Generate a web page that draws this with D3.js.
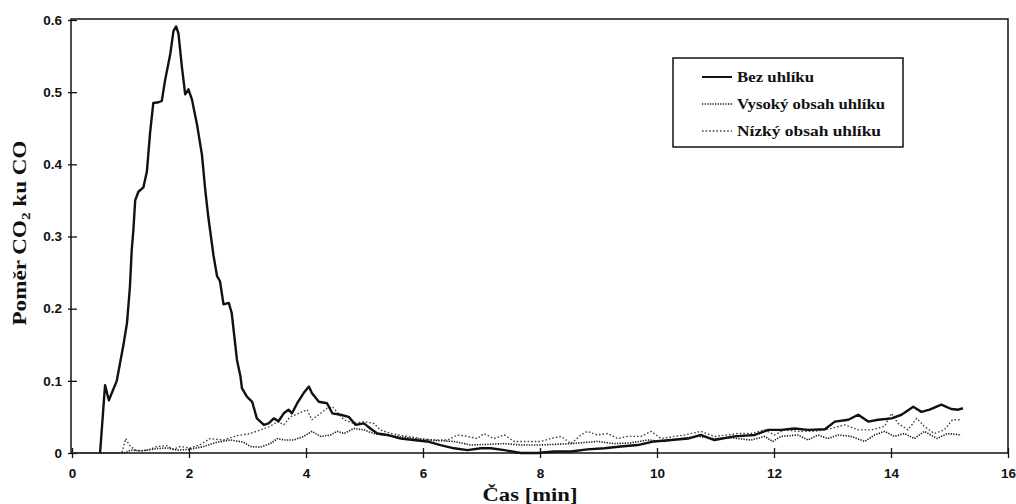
<!DOCTYPE html>
<html>
<head>
<meta charset="utf-8">
<script src="https://cdn.jsdelivr.net/npm/d3@7/dist/d3.min.js"></script>
<style>
  body { margin: 0; background: #fff; }
  svg { display: block; }
</style>
</head>
<body>
<svg id="chart" width="1016" height="504"></svg>
<script>
// Time [min] and CO2/CO ratio for each run
const bezT = [0.48,0.565,0.63,0.765,0.875,0.94,0.99,1.02,1.05,1.08,1.135,1.22,1.28,1.335,1.39,1.48,1.535,1.59,1.68,1.735,1.78,1.82,1.88,1.935,1.99,2.05,2.135,2.22,2.28,2.33,2.42,2.48,2.53,2.59,2.68,2.73,2.82,2.88,2.905,2.99,3.08,3.16,3.28,3.36,3.45,3.53,3.62,3.70,3.76,3.85,3.96,4.05,4.10,4.22,4.36,4.45,4.59,4.73,4.85,4.99,5.10,5.22,5.39,5.62,5.84,6.07,6.30,6.53,6.76,6.99,7.16,7.39,7.67,7.96,8.24,8.53,8.81,9.10,9.38,9.67,9.95,10.24,10.53,10.75,10.98,11.32,11.67,11.90,12.12,12.35,12.58,12.87,13.04,13.27,13.44,13.61,13.78,14.01,14.18,14.38,14.52,14.66,14.86,15.03,15.15,15.23];
const bezV = [0,0.094,0.073,0.10,0.148,0.18,0.23,0.28,0.31,0.35,0.362,0.368,0.39,0.444,0.485,0.486,0.488,0.516,0.553,0.585,0.591,0.581,0.534,0.497,0.504,0.49,0.456,0.414,0.363,0.327,0.273,0.245,0.238,0.206,0.208,0.194,0.129,0.106,0.09,0.078,0.071,0.048,0.039,0.041,0.048,0.044,0.055,0.06,0.055,0.069,0.083,0.092,0.083,0.071,0.069,0.055,0.053,0.050,0.039,0.041,0.034,0.027,0.025,0.020,0.018,0.016,0.011,0.0065,0.004,0.0065,0.0065,0.004,0,0,0.002,0.002,0.005,0.0065,0.009,0.011,0.016,0.018,0.020,0.025,0.018,0.023,0.025,0.032,0.032,0.034,0.032,0.033,0.0435,0.046,0.053,0.0435,0.046,0.048,0.053,0.064,0.057,0.060,0.067,0.061,0.060,0.062];

const vysT = [0,0.9,1.0,1.2,1.45,1.62,1.8,2.0,2.25,2.48,2.71,2.93,3.05,3.22,3.39,3.51,3.62,3.79,3.96,4.10,4.25,4.42,4.53,4.65,4.82,4.99,5.16,5.33,5.56,5.84,6.07,6.30,6.53,6.82,7.1,7.39,7.7,7.96,8.25,8.53,8.98,9.27,9.55,9.84,10.13,10.41,10.70,10.98,11.27,11.61,11.84,11.98,12.12,12.41,12.58,12.75,12.92,13.10,13.32,13.55,13.72,13.89,14.06,14.23,14.40,14.57,14.79,14.96,15.20];
const vysV = [0,0,0.004,0.003,0.006,0.007,0.004,0.005,0.009,0.015,0.018,0.015,0.009,0.008,0.013,0.020,0.018,0.018,0.023,0.030,0.023,0.025,0.030,0.027,0.034,0.032,0.027,0.025,0.023,0.020,0.018,0.017,0.016,0.011,0.012,0.013,0.011,0.011,0.012,0.013,0.016,0.013,0.014,0.018,0.016,0.020,0.023,0.020,0.021,0.018,0.023,0.016,0.023,0.025,0.018,0.025,0.020,0.025,0.023,0.016,0.025,0.030,0.023,0.027,0.020,0.030,0.020,0.027,0.025];

const nizT = [0,0.85,0.92,0.97,1.02,1.1,1.3,1.45,1.62,1.73,1.85,2.02,2.2,2.36,2.59,2.82,3.05,3.22,3.39,3.51,3.62,3.73,3.88,4.02,4.10,4.25,4.36,4.45,4.53,4.65,4.82,4.99,5.16,5.27,5.45,5.73,5.96,6.19,6.42,6.59,6.76,6.93,7.04,7.21,7.39,7.56,7.79,8.01,8.18,8.36,8.53,8.70,8.81,8.98,9.16,9.33,9.50,9.73,9.90,10.07,10.30,10.47,10.75,10.98,11.21,11.38,11.61,11.84,12.01,12.18,12.41,12.70,12.98,13.21,13.44,13.67,13.89,14.01,14.12,14.29,14.44,14.57,14.74,14.91,15.05,15.20];
const nizV = [0,0,0.02,0.012,0.008,0.003,0.004,0.009,0.010,0.005,0.009,0.007,0.012,0.020,0.018,0.024,0.027,0.032,0.037,0.0435,0.039,0.050,0.055,0.060,0.046,0.055,0.062,0.064,0.057,0.046,0.041,0.0435,0.041,0.032,0.027,0.023,0.020,0.018,0.018,0.025,0.023,0.020,0.027,0.020,0.025,0.016,0.016,0.016,0.020,0.023,0.013,0.025,0.030,0.025,0.027,0.020,0.023,0.023,0.030,0.020,0.023,0.025,0.030,0.023,0.025,0.027,0.027,0.032,0.025,0.032,0.030,0.030,0.034,0.039,0.032,0.032,0.037,0.055,0.041,0.032,0.048,0.037,0.027,0.032,0.046,0.046];

const seriesNames = ["Bez uhlíku", "Vysoký obsah uhlíku", "Nízký obsah uhlíku"];
const xTicks = [0, 2, 4, 6, 8, 10, 12, 14, 16];
const yTicks = [0, 0.1, 0.2, 0.3, 0.4, 0.5, 0.6];

(function draw() {
  const svg = d3.select("#chart");
  const mLeft = 72, mRight = 1008, mTop = 20, mBottom = 453;

  const x = d3.scaleLinear().domain([0, 16]).range([mLeft, mRight]);
  const y = d3.scaleLinear().domain([0, 0.6]).range([mBottom, mTop]);

  const tickFont = "'Liberation Sans', Arial, sans-serif";
  const titleFont = "'Liberation Serif', 'Times New Roman', serif";

  // axes
  const yAxis = svg.append("g")
    .attr("transform", `translate(${mLeft},0)`)
    .call(d3.axisLeft(y).tickValues(yTicks)
      .tickFormat(d => d === 0 ? "0" : d3.format(".1f")(d)));
  yAxis.select(".domain").remove();
  yAxis.selectAll(".tick line").attr("x1", 5).attr("x2", -4).attr("stroke", "#111").attr("stroke-width", 1.3);
  yAxis.selectAll(".tick text")
    .attr("x", -10)
    .attr("font-family", tickFont).attr("font-weight", "bold").attr("font-size", 13.5).attr("fill", "#111");

  const xAxis = svg.append("g")
    .attr("transform", `translate(0,${mBottom})`)
    .call(d3.axisBottom(x).tickValues(xTicks).tickFormat(d3.format("d")));
  xAxis.select(".domain").remove();
  xAxis.selectAll(".tick line").attr("y1", -5).attr("y2", 5).attr("stroke", "#111").attr("stroke-width", 1.3);
  xAxis.selectAll(".tick text")
    .attr("y", 15).attr("dy", "0.71em")
    .attr("font-family", tickFont).attr("font-weight", "bold").attr("font-size", 13.5).attr("fill", "#111");

  // plot frame
  svg.append("rect")
    .attr("x", mLeft - 1).attr("y", mTop - 1)
    .attr("width", mRight - mLeft + 1).attr("height", mBottom - mTop + 1)
    .attr("fill", "none").attr("stroke", "#111").attr("stroke-width", 1.5);

  // series
  const styles = [
    { stroke: "#111", width: 2.4, dash: null },
    { stroke: "#1a1a1a", width: 1.6, dash: "1.3,1.3" },
    { stroke: "#444", width: 1.4, dash: "1.6,2" }
  ];
  const data = [
    d3.zip(bezT, bezV),
    d3.zip(vysT, vysV),
    d3.zip(nizT, nizV)
  ];
  const line = d3.line().x(d => x(d[0])).y(d => y(d[1]));

  // dotted runs first so the solid line sits on top
  [2, 1, 0].forEach(i => {
    svg.append("path")
      .datum(data[i])
      .attr("d", line)
      .attr("fill", "none")
      .attr("stroke", styles[i].stroke)
      .attr("stroke-width", styles[i].width)
      .attr("stroke-linejoin", "round")
      .attr("stroke-dasharray", styles[i].dash);
  });

  // legend
  const lg = svg.append("g");
  lg.append("rect")
    .attr("x", 673).attr("y", 58).attr("width", 230).attr("height", 89)
    .attr("fill", "#fff").attr("stroke", "#111").attr("stroke-width", 1.5);
  const rowY = [77, 104, 131];
  const textLen = [77, 148, 144];
  seriesNames.forEach((name, i) => {
    lg.append("line")
      .attr("x1", 702).attr("x2", 732).attr("y1", rowY[i]).attr("y2", rowY[i])
      .attr("stroke", styles[i].stroke)
      .attr("stroke-width", i === 0 ? 2 : 1.4)
      .attr("stroke-dasharray", styles[i].dash);
    lg.append("text")
      .attr("x", 737).attr("y", rowY[i] + 5)
      .attr("font-family", titleFont).attr("font-weight", "bold").attr("font-size", 15)
      .attr("textLength", textLen[i]).attr("lengthAdjust", "spacingAndGlyphs")
      .attr("fill", "#111")
      .text(name);
  });

  // axis titles
  svg.append("text")
    .attr("x", 530).attr("y", 501)
    .attr("text-anchor", "middle")
    .attr("font-family", titleFont).attr("font-weight", "bold").attr("font-size", 18)
    .attr("textLength", 95).attr("lengthAdjust", "spacingAndGlyphs")
    .attr("fill", "#111")
    .text("Čas [min]");

  const yTitle = svg.append("text")
    .attr("transform", "translate(26,233) rotate(-90)")
    .attr("text-anchor", "middle")
    .attr("font-family", titleFont).attr("font-weight", "bold").attr("font-size", 18)
    .attr("textLength", 185).attr("lengthAdjust", "spacingAndGlyphs")
    .attr("fill", "#111");
  yTitle.append("tspan").text("Poměr CO");
  yTitle.append("tspan").attr("font-size", 12).attr("dy", 4).text("2");
  yTitle.append("tspan").attr("dy", -4).text(" ku CO");
})();
</script>
</body>
</html>
